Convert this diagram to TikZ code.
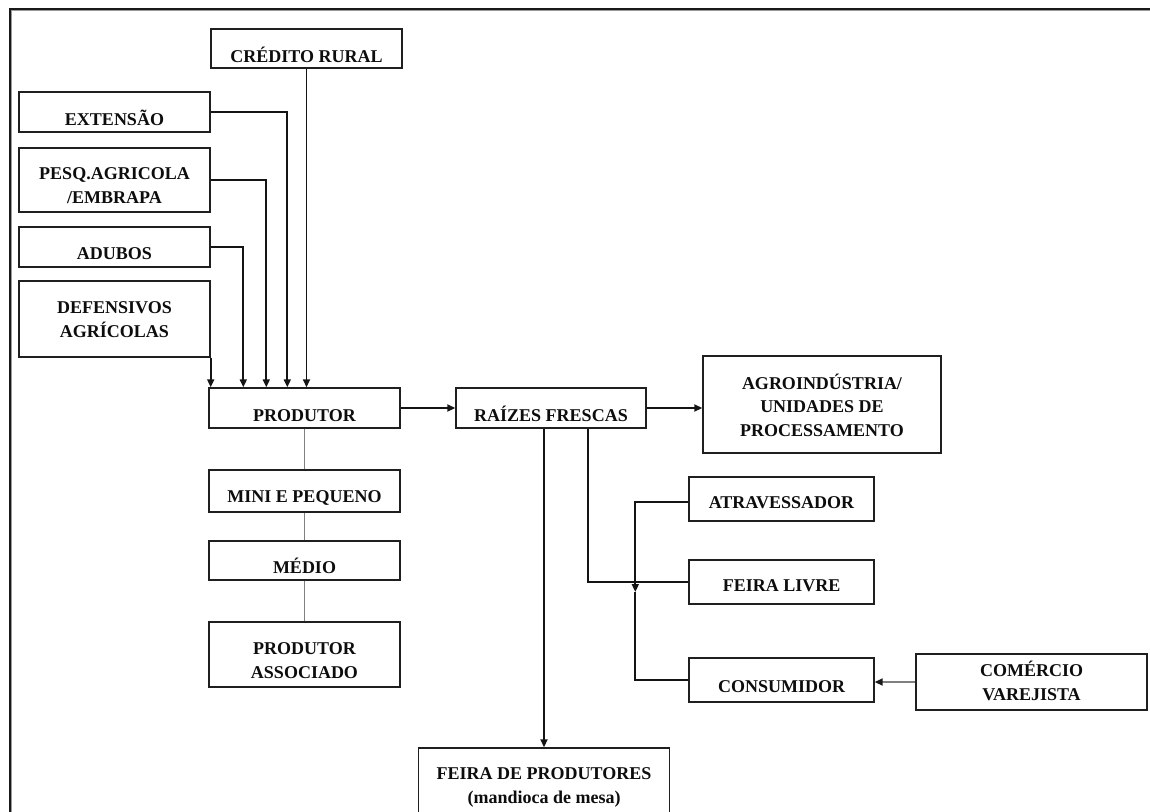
\documentclass[tikz,border=0pt]{standalone}
\usepackage{fontspec}
\setmainfont{Liberation Serif}
\usetikzlibrary{arrows.meta,calc}
% #6 = baseline of the LAST text line
\newcommand\bx[7]{%
  \node[box, minimum width=#4pt, minimum height=#5pt] (#1) at (#2,#3) {};
  \node[txt] (#1t) at (#2,#6) {#7};}
\begin{document}
\begin{tikzpicture}[x=1pt,y=-1pt,
  box/.style={draw=black!88, line width=1.4pt, rectangle, inner sep=0pt, fill=white},
  txt/.style={font=\fontsize{18}{23.5}\selectfont\bfseries, align=center, inner sep=0pt, anchor=base, text=black!95},
  con/.style={draw=black!92, line width=1.7pt},
  arr/.style={con, -{Triangle[length=8pt,width=7pt]}},
  gcon/.style={draw=black!50, line width=1.8pt},
]
\clip (0,0) rectangle (1150,811);
\fill[white] (0,0) rectangle (1150,811);
% frame
\draw[black!90, line width=2pt] (10,820) -- (10,9) -- (1160,9);
\draw[black!40, line width=1.2pt] (11.8,820) -- (11.8,10.8) -- (1160,10.8);

\bx{cred}{306.5}{48.5}{191}{39}{62}{CRÉDITO RURAL}
\bx{ext}{114.5}{112}{191}{40}{125}{EXTENSÃO}
\bx{pesq}{114.5}{180}{191}{64}{203}{PESQ.AGRICOLA\\/EMBRAPA}
\bx{adub}{114.5}{247}{191}{40}{259}{ADUBOS}
\bx{def}{114.5}{319}{191}{76}{337}{DEFENSIVOS\\AGRÍCOLAS}
\bx{prod}{304.5}{408}{191}{40}{421}{PRODUTOR}
\bx{raiz}{551}{408}{190}{40}{421}{RAÍZES FRESCAS}
\bx{mini}{304.5}{491}{191}{42}{502}{MINI E PEQUENO}
\bx{med}{304.5}{560.5}{191}{39}{573}{MÉDIO}
\bx{assoc}{304.5}{654.5}{191}{65}{678}{PRODUTOR\\ASSOCIADO}
\bx{feira}{544}{790}{251}{84}{803}{FEIRA DE PRODUTORES\\(mandioca de mesa)}
\bx{agro}{822}{404.5}{238}{97}{436}{AGROINDÚSTRIA/\\UNIDADES DE\\PROCESSAMENTO}
\bx{atrav}{781.5}{499}{185}{44}{508}{ATRAVESSADOR}
\bx{flivre}{781.5}{582}{185}{44}{591}{FEIRA LIVRE}
\bx{cons}{781.5}{680}{185}{44}{692}{CONSUMIDOR}
\bx{com}{1031.5}{682}{231}{56}{700}{COMÉRCIO\\VAREJISTA}

% inputs to PRODUTOR
\draw[arr] (def.south east) -- (def.south east |- prod.north);
\draw[arr] (adub.east) -| ($(prod.north west)+(35,0)$);
\draw[arr] (pesq.east) -| ($(prod.north west)+(58,0)$);
\draw[arr] (ext.east) -| ($(prod.north west)+(79,0)$);
\draw[arr] (cred.south) -- (cred.south |- prod.north);

% producer classes
\draw[gcon] (prod.south) -- (mini.north);
\draw[gcon] (mini.south) -- (med.north);
\draw[gcon] (med.south) -- (assoc.north);

% flows
\draw[arr] (prod.east) -- (raiz.west);
\draw[arr] (raiz.east) -- (raiz.east -| agro.west);
\draw[arr] (feira.north |- raiz.south) -- (feira.north);
\coordinate (r2) at ($(raiz.south west)+(133,0)$);
\draw[con] (r2) |- (flivre.west);
\coordinate (ja) at ($(atrav.west)+(0,3)$);
\coordinate (jb) at ($(ja)+(-53,0)$);
\coordinate (jc) at (jb |- flivre.west);
\coordinate (jd) at ($(jc)+(0,10)$);
\draw[con] (ja) -- (jb) -- (jc);
\draw[arr] (jc) -- (jd);
\draw[con] (jd) |- (cons.west);
\draw[gcon, -{Triangle[length=8pt,width=7pt,color=black!90]}] (com.west) -- (com.west -| cons.east);
\end{tikzpicture}
\end{document}
